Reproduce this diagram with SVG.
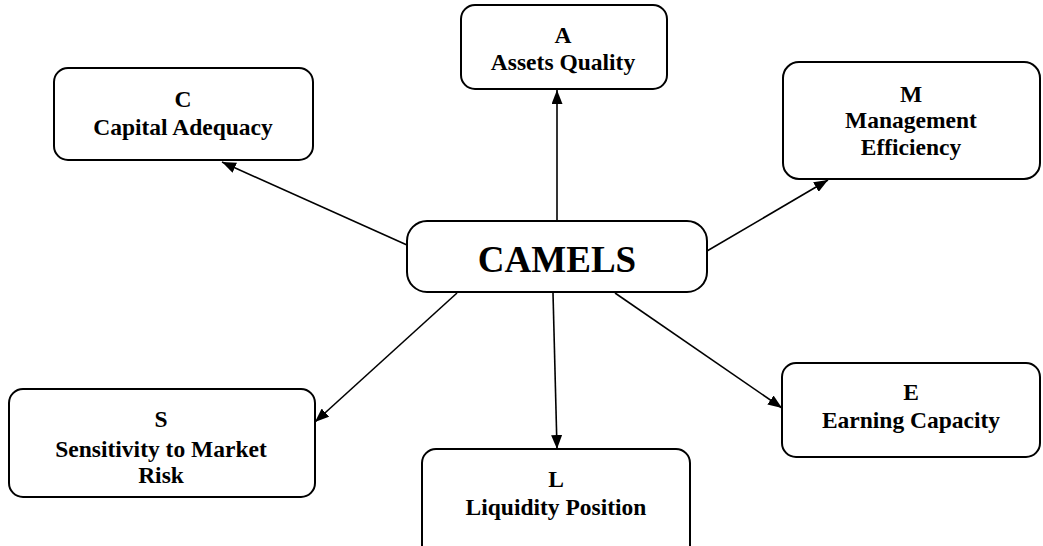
<svg xmlns="http://www.w3.org/2000/svg" width="1043" height="546" viewBox="0 0 1043 546">
<defs>
<marker id="ah" markerWidth="14" markerHeight="11" refX="14" refY="5.5" orient="auto" markerUnits="userSpaceOnUse">
<path d="M0,0 L14,5.5 L0,11 Z" fill="#000"/>
</marker>
<style>
.box{fill:#fff;stroke:#000;stroke-width:2}
.t{font-family:"Liberation Serif","Times New Roman",serif;font-weight:bold;font-size:23.5px;text-anchor:middle;fill:#000}
.big{font-size:37px}
.c{stroke:#000;stroke-width:1.6;fill:none;marker-end:url(#ah)}
</style>
</defs>
<rect width="1043" height="546" fill="#fff"/>
<g id="connectors">
<line class="c" x1="557" y1="221" x2="557" y2="90"/>
<line class="c" x1="407" y1="245" x2="222" y2="162"/>
<line class="c" x1="707" y1="251" x2="828" y2="180"/>
<line class="c" x1="457" y1="293" x2="315" y2="422"/>
<line class="c" x1="553" y1="293" x2="557" y2="449"/>
<line class="c" x1="615" y1="293" x2="782" y2="408"/>
</g>
<g id="camels">
<rect class="box" x="407" y="221" width="300" height="71" rx="20"/>
<text class="t big" x="557" y="272">CAMELS</text>
</g>
<g id="node-a">
<rect class="box" x="461" y="5" width="206" height="84" rx="14"/>
<text class="t" x="563" y="43">A</text>
<text class="t" x="563" y="70">Assets Quality</text>
</g>
<g id="node-c">
<rect class="box" x="54" y="68" width="259" height="92" rx="14"/>
<text class="t" x="183" y="107">C</text>
<text class="t" x="183" y="135">Capital Adequacy</text>
</g>
<g id="node-m">
<rect class="box" x="783" y="62" width="257" height="117" rx="16"/>
<text class="t" x="911" y="102">M</text>
<text class="t" x="911" y="128">Management</text>
<text class="t" x="911" y="155">Efficiency</text>
</g>
<g id="node-s">
<rect class="box" x="9" y="389" width="306" height="108" rx="14"/>
<text class="t" x="161" y="427">S</text>
<text class="t" x="161" y="457">Sensitivity to Market</text>
<text class="t" x="161" y="483">Risk</text>
</g>
<g id="node-l">
<rect class="box" x="422" y="449" width="268" height="110" rx="14"/>
<text class="t" x="556" y="487">L</text>
<text class="t" x="556" y="515">Liquidity Position</text>
</g>
<g id="node-e">
<rect class="box" x="782" y="363" width="258" height="94" rx="14"/>
<text class="t" x="911" y="400">E</text>
<text class="t" x="911" y="428">Earning Capacity</text>
</g>
</svg>
